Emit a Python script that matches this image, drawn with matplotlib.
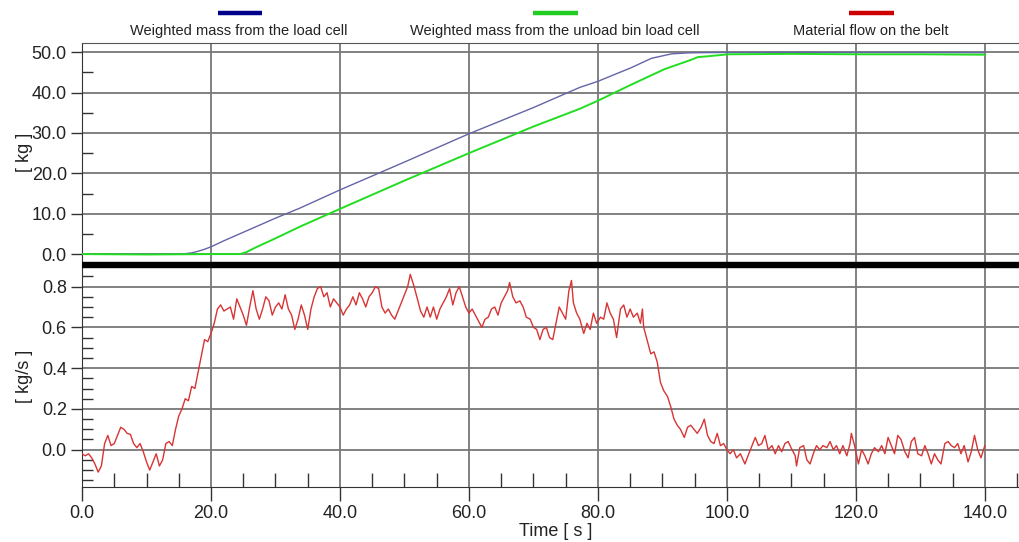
import matplotlib
matplotlib.use("Agg")
import matplotlib.pyplot as plt
from matplotlib.lines import Line2D
from matplotlib.ticker import MultipleLocator

plt.rcParams['font.family'] = ['Liberation Sans', 'DejaVu Sans']

# weighted mass from the load cell [kg]
load_t = [0, 10, 15, 16, 17, 18, 19, 20, 22, 25, 30, 33.8, 40, 50, 60, 70, 77.2,
          80, 85.2, 88.3, 91.4, 94, 96, 100, 110, 120, 130, 140]
load_m = [0, 0, 0, 0.1, 0.3, 0.7, 1.2, 1.8, 3.3, 5.4, 8.9, 11.4, 15.9, 22.8, 29.8,
          36.3, 41.3, 42.8, 46.2, 48.5, 49.6, 49.85, 49.9, 49.95, 50.0, 49.95, 49.95, 49.9]

# weighted mass from the unload bin load cell [kg]
bin_t = [0, 10, 20, 24.5, 25.5, 27, 30, 33.8, 40, 50, 60, 70, 77.2, 80, 85.2, 90.3,
         94.4, 95.5, 97, 100.2, 110, 120, 130, 140]
bin_m = [0, -0.1, 0, 0, 0.5, 1.7, 3.9, 6.8, 11.2, 18.2, 25.0, 31.6, 36.0, 38.0, 42.0,
         45.8, 48.1, 48.8, 49.0, 49.5, 49.6, 49.5, 49.5, 49.4]

# material flow on the belt [kg/s]
flow_t = [0, 0.5, 1, 1.5, 2, 2.5, 3, 3.5, 4, 4.5, 5, 5.5, 6, 6.5, 7, 7.5, 8, 8.5, 9, 9.5,
          10, 10.5, 11, 11.5, 12, 12.5, 13, 13.5, 14, 14.5, 15, 15.5, 16, 16.5, 17, 17.5,
          18, 18.5, 19, 19.5, 20, 20.5, 21, 21.5, 22, 22.5, 23, 23.5, 24, 24.5, 25, 25.5,
          26, 26.5, 27, 27.5, 28, 28.5, 29, 29.5, 30, 30.5, 31, 31.5, 32, 32.5, 33, 33.5,
          34, 34.5, 35, 35.5, 36, 36.5, 37, 37.5, 38, 38.5, 39, 39.5, 40, 40.5, 41, 41.5,
          42, 42.5, 43, 43.5, 44, 44.5, 45, 45.5, 46, 46.5, 47, 47.5, 48, 48.5, 49, 49.5,
          50, 50.5, 50.9, 51.5, 52, 52.5, 53, 53.5, 54, 54.5, 55, 55.5, 56, 56.5, 57, 57.5,
          58, 58.5, 59, 59.5, 60, 60.5, 61, 61.5, 62, 62.5, 63, 63.5, 64, 64.5, 65, 65.5,
          66, 66.3, 66.8, 67.3, 67.9, 68.4, 68.9, 69.5, 70, 70.5, 71, 71.5, 72, 72.5, 73,
          73.5, 74, 74.5, 75, 75.5, 75.9, 76.2, 76.7, 77.2, 77.8, 78.3, 78.8, 79.3, 79.8,
          80.4, 80.9, 81.4, 81.9, 82.4, 82.9, 83.5, 84, 84.5, 85, 85.5, 86.1, 86.6, 86.9,
          87.1, 87.6, 88.2, 88.7, 89.2, 89.7, 90.2, 90.8, 91.3, 91.8, 92.3, 92.8, 93.4,
          93.9, 94.4, 94.9, 95.4, 96, 96.5, 97, 97.5, 98, 98.5, 99, 99.5, 100, 100.5, 101,
          101.5, 102.1, 102.8, 103.4, 103.9, 104.4, 104.9, 105.4, 105.9, 106.4, 107, 107.5,
          108, 108.5, 109, 109.5, 110.1, 110.6, 110.8, 111.3, 111.9, 112.4, 112.9, 113.4,
          113.9, 114.4, 114.9, 115.5, 116, 116.5, 117, 117.5, 118, 118.6, 119.1, 119.3,
          119.8, 120.4, 120.9, 121.4, 121.9, 122.4, 122.9, 123.5, 124, 124.5, 125, 125.5,
          126, 126.5, 127, 127.6, 128.1, 128.6, 129.1, 129.6, 130.2, 130.7, 131.2, 131.7,
          132.2, 132.7, 133.2, 133.8, 134.3, 134.8, 135.3, 135.8, 136.3, 136.8, 137.4,
          137.9, 138.4, 138.9, 139.4, 140]
flow_v = [-0.02, -0.03, -0.02, -0.04, -0.07, -0.11, -0.08, 0.03, 0.07, 0.02, 0.03, 0.07,
          0.11, 0.10, 0.08, 0.075, 0.03, 0.01, 0.03, -0.01, -0.06, -0.10, -0.06, -0.02,
          -0.08, -0.05, 0.03, 0.04, 0.02, 0.10, 0.165, 0.20, 0.25, 0.24, 0.31, 0.30, 0.38,
          0.46, 0.54, 0.53, 0.57, 0.62, 0.69, 0.71, 0.68, 0.69, 0.70, 0.64, 0.74, 0.70,
          0.66, 0.61, 0.70, 0.78, 0.69, 0.64, 0.69, 0.75, 0.73, 0.66, 0.70, 0.72, 0.69,
          0.76, 0.69, 0.66, 0.59, 0.64, 0.71, 0.66, 0.59, 0.69, 0.75, 0.79, 0.80, 0.75,
          0.77, 0.70, 0.74, 0.72, 0.70, 0.66, 0.69, 0.71, 0.75, 0.71, 0.77, 0.74, 0.70,
          0.75, 0.77, 0.80, 0.79, 0.70, 0.67, 0.69, 0.66, 0.64, 0.68, 0.72, 0.76, 0.80,
          0.86, 0.80, 0.74, 0.68, 0.65, 0.70, 0.65, 0.70, 0.64, 0.69, 0.72, 0.75, 0.79,
          0.71, 0.77, 0.80, 0.75, 0.70, 0.67, 0.69, 0.66, 0.63, 0.60, 0.64, 0.65, 0.69,
          0.70, 0.66, 0.72, 0.75, 0.78, 0.82, 0.75, 0.72, 0.73, 0.70, 0.65, 0.64, 0.60,
          0.59, 0.54, 0.59, 0.60, 0.55, 0.54, 0.62, 0.70, 0.67, 0.64, 0.78, 0.83, 0.72,
          0.67, 0.64, 0.57, 0.62, 0.59, 0.67, 0.62, 0.65, 0.64, 0.72, 0.67, 0.64, 0.55,
          0.69, 0.71, 0.65, 0.69, 0.65, 0.67, 0.62, 0.69, 0.60, 0.54, 0.47, 0.48, 0.43,
          0.33, 0.29, 0.26, 0.21, 0.15, 0.12, 0.10, 0.06, 0.11, 0.12, 0.10, 0.08, 0.11,
          0.15, 0.07, 0.04, 0.03, 0.08, 0.02, 0.03, 0.0, -0.02, 0.0, -0.04, -0.02, -0.07,
          -0.02, 0.02, 0.06, 0.02, 0.03, 0.07, 0.0, 0.02, -0.02, 0.02, -0.01, 0.03, 0.04,
          0.0, -0.03, -0.08, 0.01, 0.02, -0.05, -0.07, -0.02, 0.02, 0.0, 0.02, 0.01, 0.04,
          0.0, 0.02, -0.02, 0.02, -0.03, 0.03, 0.08, 0.02, -0.07, 0.0, -0.03, -0.07, -0.02,
          0.01, -0.01, 0.02, -0.02, 0.06, 0.02, -0.02, 0.07, 0.05, -0.01, -0.04, 0.04,
          0.06, -0.02, -0.03, 0.02, -0.02, -0.07, -0.02, -0.05, -0.07, 0.03, 0.04, 0.02,
          0.01, 0.03, -0.02, 0.02, -0.06, -0.01, 0.07, 0.0, -0.04, 0.02]

legend_labels = ["Weighted mass from the load cell",
                 "Weighted mass from the unload bin load cell",
                 "Material flow on the belt"]
legend_colors = ["#00008b", "#22cc22", "#cc0000"]

grid_col = "#777777"
txt_col = "#222222"
fs = 13

fig = plt.figure(figsize=(10.19, 5.42), dpi=100)
ax1 = fig.add_axes([0.0805, 0.5111, 0.9195, 0.4096])
ax2 = fig.add_axes([0.0805, 0.1015, 0.9195, 0.4096], sharex=ax1)
# top axes drawn last so its thick bottom spine isn't hidden by the lower panel
ax1.set_zorder(2)
ax1.patch.set_visible(False)

ax1.plot(load_t, load_m, color="#6464a8", lw=1.0, zorder=3)
ax1.plot(bin_t, bin_m, color="#22dd22", lw=1.4, zorder=3)
ax2.plot(flow_t, flow_v, color="#d83434", lw=1.0, zorder=3)

ax1.set_xlim(0, 145.3)
ax1.set_ylim(-2.7, 52.3)
ax2.set_ylim(-0.183, 0.906)

ax1.yaxis.set_major_locator(MultipleLocator(10))
ax1.yaxis.set_minor_locator(MultipleLocator(5))
ax2.yaxis.set_major_locator(MultipleLocator(0.2))
ax2.yaxis.set_minor_locator(MultipleLocator(0.05))
ax2.xaxis.set_major_locator(MultipleLocator(20))
ax2.xaxis.set_minor_locator(MultipleLocator(5))
ax1.yaxis.set_major_formatter(lambda v, p: f"{v:.1f}")
ax2.yaxis.set_major_formatter(lambda v, p: f"{v:.1f}")
ax2.xaxis.set_major_formatter(lambda v, p: f"{v:.1f}")

for ax in (ax1, ax2):
    ax.grid(True, which="major", color=grid_col, lw=1.3)
    ax.set_axisbelow(True)
    ax.spines["right"].set_visible(False)
    ax.spines["left"].set_color("#333333")
    ax.tick_params(axis="y", which="major", direction="out", length=8, width=1,
                   color="#333333", labelsize=fs, pad=3, labelcolor=txt_col)
    ax.tick_params(axis="y", which="minor", direction="in", length=8, width=1,
                   color="#333333")

ax1.spines["top"].set_color("#555555")
ax1.spines["bottom"].set_linewidth(4.6)
ax1.spines["bottom"].set_color("black")
ax1.spines["bottom"].set_capstyle("butt")
ax1.tick_params(axis="x", which="both", length=0, labelbottom=False)
ax2.spines["top"].set_visible(False)
ax2.spines["bottom"].set_color("#333333")
ax2.tick_params(axis="x", which="major", direction="out", length=10, width=1,
                color="#333333", labelsize=fs, pad=3, labelcolor=txt_col)
ax2.tick_params(axis="x", which="minor", direction="in", length=10, width=1,
                color="#333333")

ax1.set_ylabel("[ kg ]", fontsize=fs, color=txt_col)
ax1.yaxis.set_label_coords(-0.052, 0.505)
ax2.set_ylabel("[ kg/s ]", fontsize=fs, color=txt_col)
ax2.yaxis.set_label_coords(-0.052, 0.5)
ax2.set_xlabel("Time [ s ]", fontsize=fs, color=txt_col)
ax2.xaxis.set_label_coords(0.505, -0.163)

# legend: coloured bar above each label
bar_x = [(0.2139, 0.2571), (0.5231, 0.5672), (0.8332, 0.8773)]
text_x = [0.2345, 0.5447, 0.8548]
for (x0, x1), tx, lab, col in zip(bar_x, text_x, legend_labels, legend_colors):
    fig.add_artist(Line2D([x0, x1], [0.976, 0.976], transform=fig.transFigure,
                          color=col, lw=3.2, solid_capstyle="butt"))
    fig.text(tx, 0.942, lab, ha="center", va="center", fontsize=10.5, color=txt_col)

fig.savefig("out.png", dpi=100)
